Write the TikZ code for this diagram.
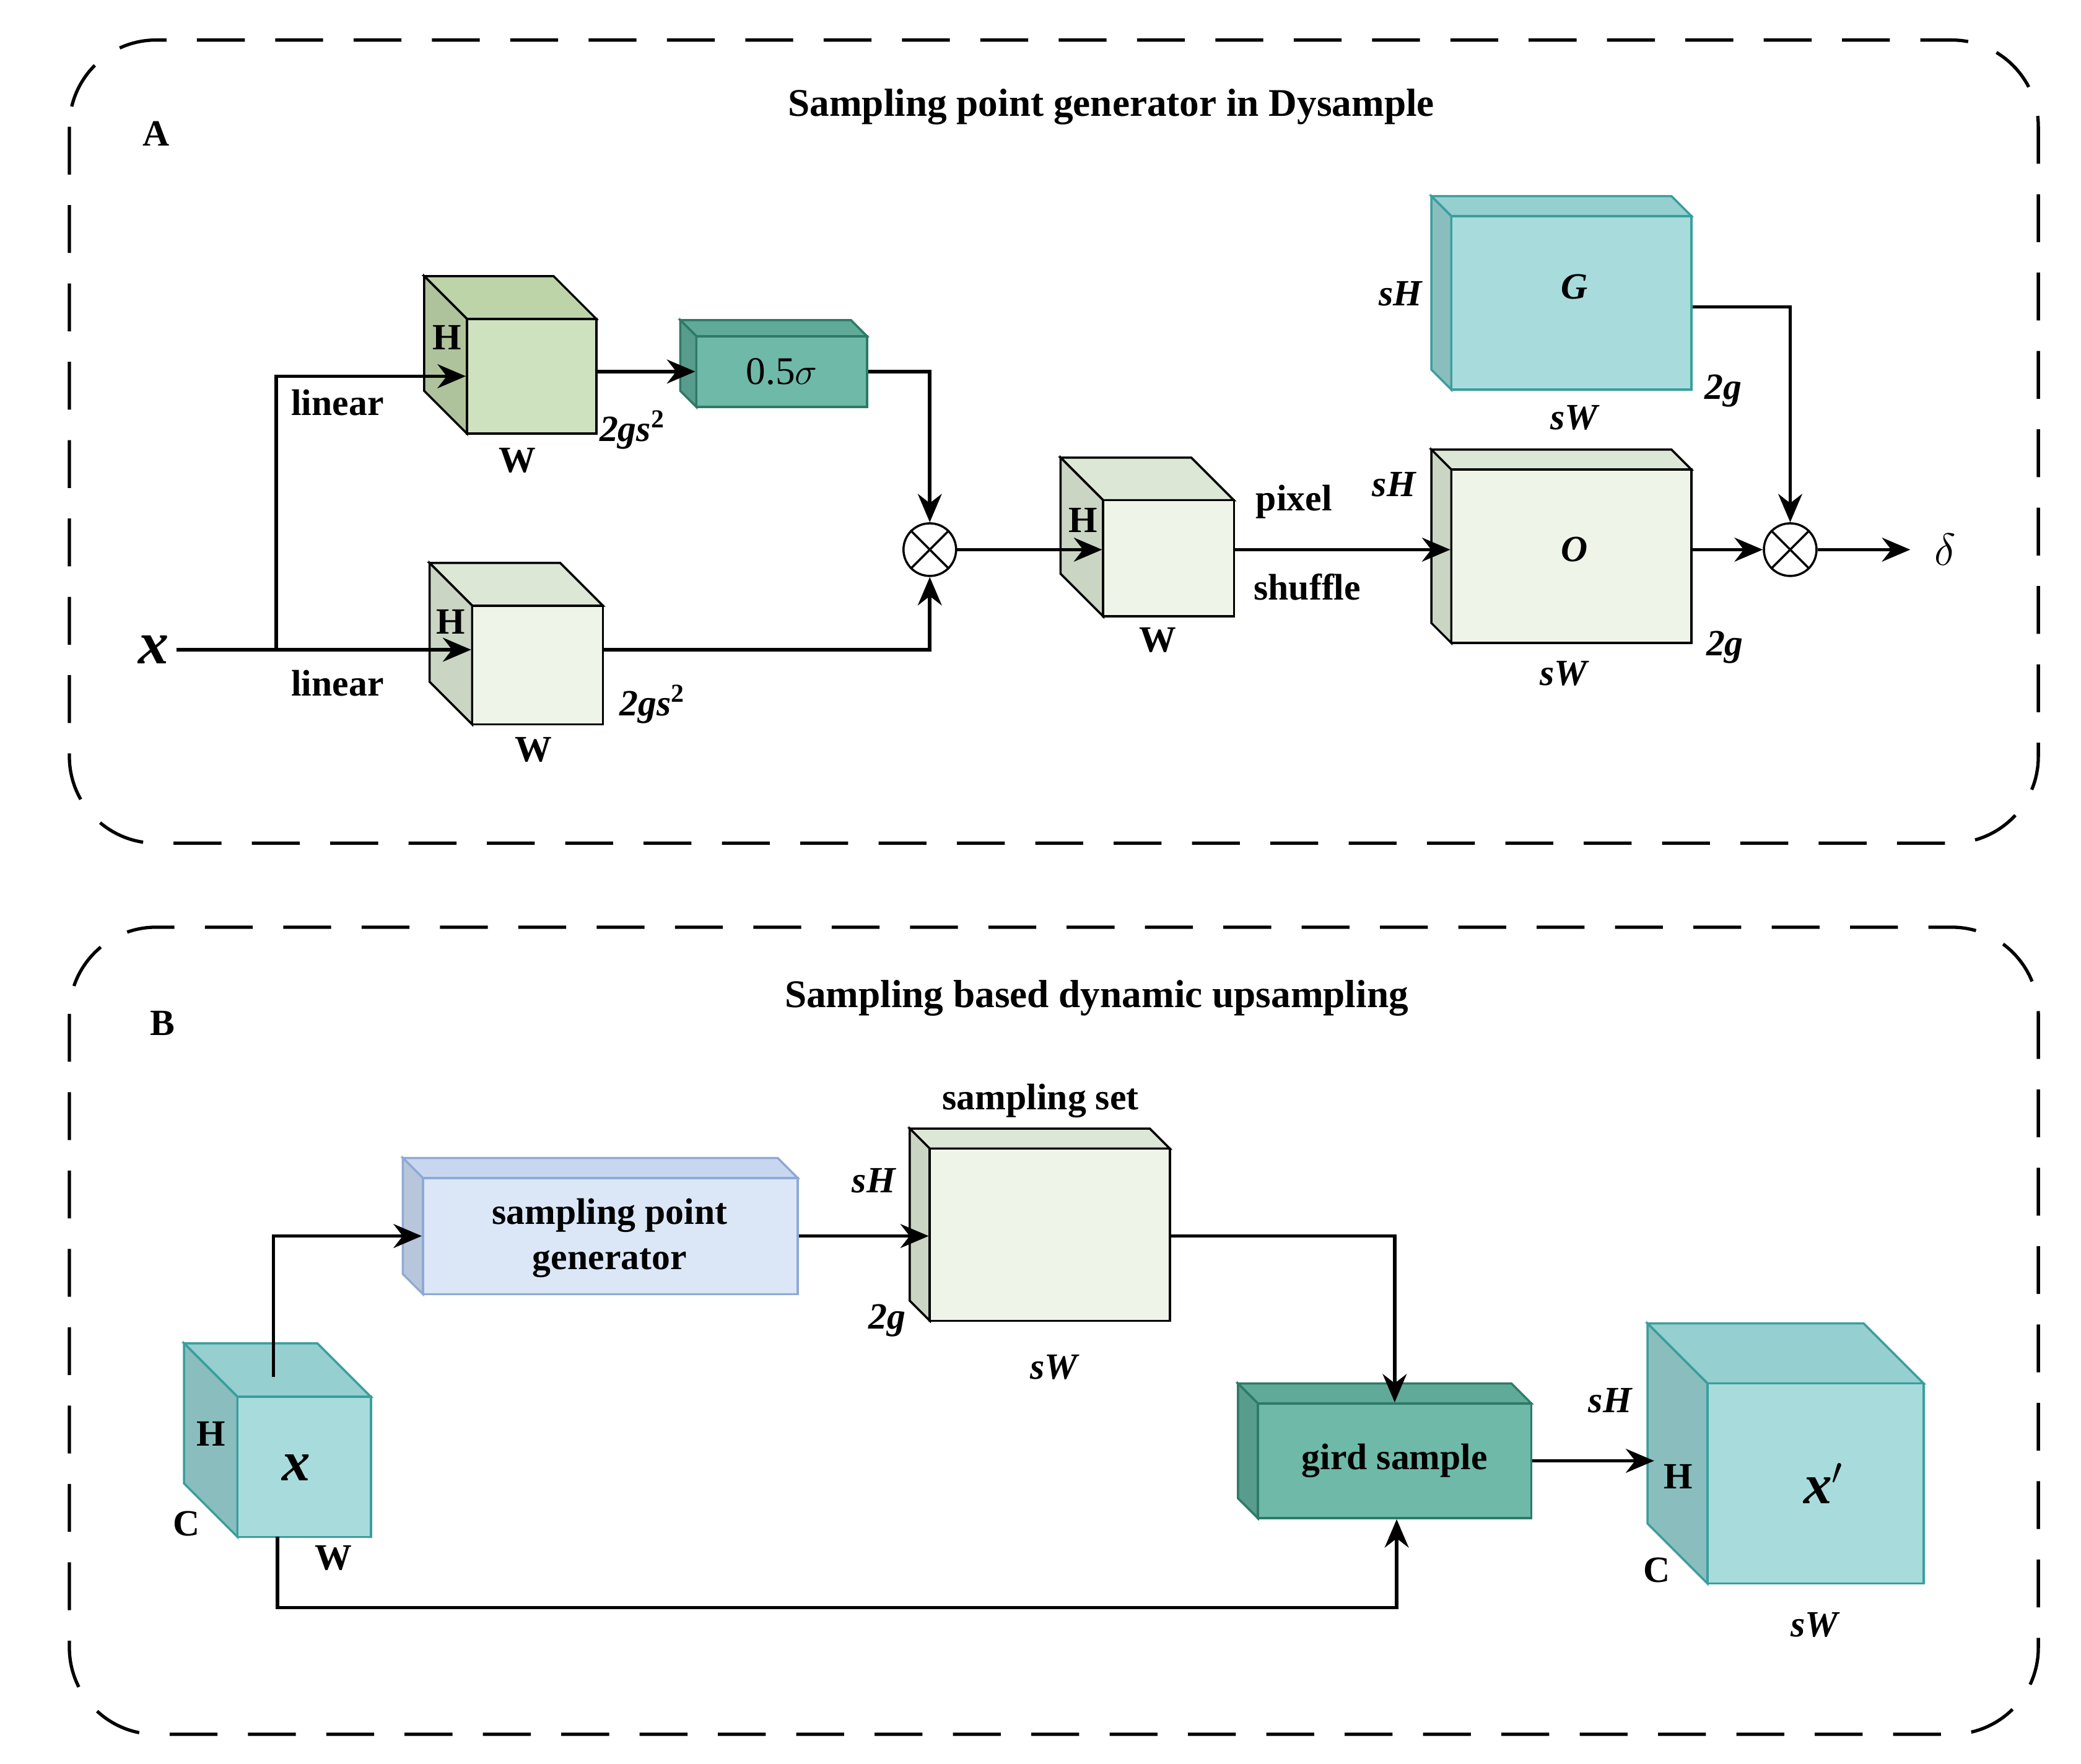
\documentclass[tikz,border=0pt]{standalone}
\usepackage{fontspec}
\setmainfont{Liberation Serif}
\usetikzlibrary{fit,arrows.meta}
\definecolor{gfront}{HTML}{CFE2BF}\definecolor{gside}{HTML}{BDD4A9}
\definecolor{lfront}{HTML}{EEF5E8}\definecolor{lside}{HTML}{DDE7D5}
\definecolor{tfront}{HTML}{6FB9A9}\definecolor{tside}{HTML}{5FAA99}\definecolor{tline}{HTML}{2E7A66}
\definecolor{cfront}{HTML}{A8DCDC}\definecolor{cside}{HTML}{96CFCF}\definecolor{cline}{HTML}{3A9E9E}
\definecolor{bfront}{HTML}{DBE7F7}\definecolor{bside}{HTML}{C8D7EF}\definecolor{bline}{HTML}{8FA9D6}
\tikzset{
 lbl/.style={font=\fontsize{17}{17}\selectfont\bfseries},
 ilbl/.style={font=\fontsize{17}{17}\selectfont\bfseries\itshape},
 ttl/.style={font=\fontsize{18}{18}\selectfont\bfseries},
 arr/.style={line width=1.6pt,-{Stealth[length=13pt,width=11pt]}},
 pan/.style={dash pattern=on 22pt off 14pt,line width=1.5pt,rounded corners=1.4cm},
 mul/.style={circle,draw,line width=1pt,fill=white,minimum size=0.85cm,inner sep=0pt}
}
% name x1 y1 x2 y2 d front side line
\newcommand\mycube[9]{%
 \filldraw[fill=#8,draw=#9,line width=1pt] (#2,#3)--({#4-#6},#3)--(#4,{#3+#6})--({#2+#6},{#3+#6})--cycle;
 \filldraw[fill=#8!92!black,draw=#9,line width=1pt] (#2,#3)--({#2+#6},{#3+#6})--({#2+#6},#5)--(#2,{#5-#6})--cycle;
 \coordinate (#1a) at ({#2+#6},{#3+#6}); \coordinate (#1b) at (#4,#5);
 \node[fit=(#1a)(#1b),inner sep=0pt,draw=#9,fill=#7,line width=1pt] (#1) {};}
\newcommand\mulmark[1]{\draw[line width=1pt] (#1.north east)--(#1.south west) (#1.north west)--(#1.south east);}
\begin{document}
\begin{tikzpicture}[x=0.02154cm,y=-0.02154cm]
\useasboundingbox (0,0) rectangle (1560,1322);
\draw[pan] (52,30) rectangle (1528,632);
\draw[pan] (52,695) rectangle (1528,1300);
\node[lbl] (tA) at (117,100) {A};
\node[ttl] (TA) at (833,80) {Sampling point generator in Dysample};
\node[lbl] (tB) at (122,767) {B};
\node[ttl] (TB) at (822,748) {Sampling based dynamic upsampling};
% ---- A ----
\mycube{c1}{318}{207}{447}{325}{32}{gfront}{gside}{black}
\node[lbl] (c1H) at (335,253) {H}; \node[lbl] (c1W) at (388,345) {W};
\node[ilbl] (c1s) at (474,322) {2gs$^{\mathbf 2}$};
\mycube{sg}{510}{240}{650}{305}{12}{tfront}{tside}{tline}
\node[font=\fontsize{18}{18}\selectfont] (sgt) at (sg) {0.5$\sigma$};
\draw[arr] (c1.east|-sg) -- (sg.west);
\mycube{c2}{322}{422}{452}{543}{32}{lfront}{lside}{black}
\node[lbl] (c2H) at (338,466) {H}; \node[lbl] (c2W) at (400,562) {W};
\node[ilbl] (c2s) at (489,528) {2gs$^{\mathbf 2}$};
\node[font=\fontsize{28}{28}\selectfont\bfseries\itshape] (xA) at (115,487) {x};
\coordinate (br) at (207,487);
\draw[arr] (xA.east) -- (c2.west|-xA);
\draw[arr] (br) |- (c1.west);
\node[lbl] (l1) at (253,302) {linear}; \node[lbl] (l2) at (253,512) {linear};
\node[mul] (m1) at (697,412) {}; \mulmark{m1}
\draw[arr] (sg.east) -| (m1.north);
\draw[arr] (c2.east|-xA) -| (m1.south);
\mycube{c3}{795}{343}{925}{462}{32}{lfront}{lside}{black}
\node[lbl] (c3H) at (812,390) {H}; \node[lbl] (c3W) at (868,480) {W};
\draw[arr] (m1.east) -- (c3.west|-m1);
\node[lbl] (px) at (970,376) {pixel}; \node[lbl] (sh) at (980,440) {shuffle};
\mycube{O}{1073}{337}{1268}{482}{15}{lfront}{lside}{black}
\node[ilbl] (Ot) at (1180,412) {O};
\node[ilbl] (OsH) at (1045,363) {sH}; \node[ilbl] (OsW) at (1172,505) {sW}; \node[ilbl] (O2g) at (1293,485) {2g};
\draw[arr] (c3.east|-m1) -- (O.west|-m1);
\mycube{G}{1073}{147}{1268}{292}{15}{cfront}{cside}{cline}
\node[ilbl] (Gt) at (1180,215) {G};
\node[ilbl] (GsH) at (1050,220) {sH}; \node[ilbl] (GsW) at (1180,313) {sW}; \node[ilbl] (G2g) at (1292,293) {2g};
\node[mul] (m2) at (1342,412) {}; \mulmark{m2}
\draw[arr] (O.east|-m2) -- (m2.west);
\draw[arr] (G.east|-0,230) -| (m2.north);
\coordinate (dend) at (1432,412);
\draw[arr] (m2.east) -- (dend);
\node[font=\fontsize{22}{22}\selectfont] (delta) at (1458,412) {$\delta$};
% ---- B ----
\mycube{spg}{302}{868}{598}{970}{15}{bfront}{bside}{bline}
\node[lbl,align=center] (spgt) at (457,928) {sampling point\\[4pt]generator};
\mycube{ss}{682}{846}{877}{990}{15}{lfront}{lside}{black}
\node[lbl] (sst) at (780,825) {sampling set};
\node[ilbl] (ssH) at (655,885) {sH}; \node[ilbl] (ss2) at (665,990) {2g}; \node[ilbl] (ssW) at (790,1025) {sW};
\mycube{xb}{138}{1007}{278}{1152}{40}{cfront}{cside}{cline}
\node[lbl] (xbH) at (158,1075) {H}; \node[lbl] (xbC) at (140,1142) {C}; \node[lbl] (xbW) at (250,1168) {W};
\node[font=\fontsize{26}{26}\selectfont\bfseries\itshape] (xbt) at (222,1100) {x};
\mycube{gs}{928}{1037}{1148}{1138}{15}{tfront}{tside}{tline}
\node[lbl] (gst) at (gs) {gird sample};
\mycube{xp}{1235}{992}{1442}{1187}{45}{cfront}{cside}{cline}
\node[ilbl] (xpH) at (1207,1050) {sH}; \node[lbl] (xpH2) at (1258,1107) {H}; \node[lbl] (xpC) at (1242,1177) {C};
\node[ilbl] (xpW) at (1360,1218) {sW};
\node[font=\fontsize{26}{26}\selectfont\bfseries\itshape] (xpt) at (1367,1112) {x$'$};
\coordinate (xs) at (205,1032);
\draw[arr] (xs) |- (spg.west);
\draw[arr] (spg.east) -- (ss.west|-spg);
\draw[arr] (ss.east|-spg) -| (gs.north);
\draw[arr] (208,1152) |- (1047,1205) -- (gs.south-|1047,0);
\draw[arr] (gs.east) -- (gs.east-|1240,0);
\end{tikzpicture}
\end{document}
